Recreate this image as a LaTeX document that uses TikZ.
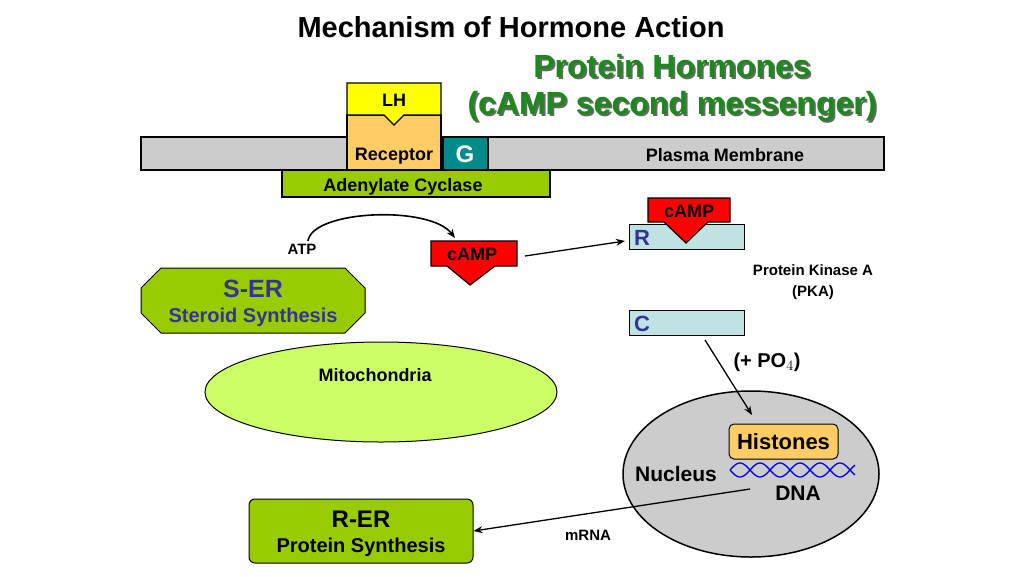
\documentclass[tikz,border=0pt]{standalone}
\usepackage{fontspec}
\setmainfont{Liberation Sans}
\usetikzlibrary{arrows.meta}
\definecolor{mem}{HTML}{CCCCCC}
\definecolor{ylw}{HTML}{FFFF00}
\definecolor{org}{HTML}{FFCC66}
\definecolor{teal2}{HTML}{008B8B}
\definecolor{grn}{HTML}{99CC00}
\definecolor{lgrn}{HTML}{CCFF66}
\definecolor{lblue}{HTML}{BFE3E3}
\definecolor{dgreen}{HTML}{1A8A1A}
\definecolor{txtblue}{HTML}{333399}
\begin{document}
\begin{tikzpicture}[x=1pt,y=-1pt,
  box/.style={draw=black,line width=1.2pt},
  lbl/.style={font=\bfseries\fontsize{18}{21}\selectfont,inner sep=0pt},
  small/.style={font=\bfseries\fontsize{15}{19}\selectfont,inner sep=0pt},
  arr/.style={line width=1.3pt,-{Stealth[length=9pt,width=7pt]}}]
\useasboundingbox (0,0) rectangle (1024,576);
\fill[white] (0,0) rectangle (1024,576);
\node[font=\bfseries\fontsize{29}{34}\selectfont] (title) at (511,27) {Mechanism of Hormone Action};
\foreach \t/\y [count=\i] in {Protein Hormones/66,(cAMP second messenger)/106}{
  \node[font=\bfseries\fontsize{32}{38}\selectfont,text=black!60] at (674,\y+2) {\t};
  \node[font=\bfseries\fontsize{32}{38}\selectfont,text=dgreen] (g\i) at (672,\y) {\t};}
% membrane
\draw[box,fill=mem] (141,137) rectangle (884,170);
\node[lbl] (pm) at (725,155) {Plasma Membrane};
\draw[box,fill=org] (347,115) rectangle (441,170);
\node[lbl] (rec) at (394,156) {Receptor};
\draw[box,fill=ylw] (347,83) -- (441,83) -- (441,115) -- (404,115) -- (394,125) -- (384,115) -- (347,115) -- cycle;
\node[lbl] (lh) at (394,100) {LH};
\draw[box,fill=teal2] (443,137) rectangle (488,170);
\node[font=\bfseries\fontsize{24}{28}\selectfont,text=white] (G) at (465,154) {G};
\draw[box,fill=grn] (282,170) rectangle (550,197);
\node[lbl] (ac) at (403,187) {Adenylate Cyclase};
% ATP and cAMP
\node[small] (atp) at (302,249) {ATP};
\draw[box,fill=red] (431,241) -- (517,241) -- (517,266) -- (495,266) -- (470,285) -- (447,266) -- (431,266) -- cycle;
\node[lbl] (camp1) at (472,254) {cAMP};
\draw[line width=1.6pt,-{Stealth[length=9pt,width=7pt]}] (308,241) .. controls (312,210) and (430,205) .. (455,238);
\coordinate (a1s) at (525,256);
\coordinate (a1e) at (625,241);
\draw[arr] (a1s) -- (a1e);
% PKA
\draw[box,line width=1pt,fill=lblue] (629,224) rectangle (744,249);
\draw[box,fill=red] (648,198) -- (730,198) -- (730,222) -- (708,222) -- (686,243) -- (664,222) -- (648,222) -- cycle;
\node[lbl] (camp2) at (689,211) {cAMP};
\node[font=\bfseries\fontsize{22}{26}\selectfont,text=txtblue] (R) at (642,238) {R};
\node[small,align=center] (pka) at (813,282) {Protein Kinase A\\[2pt](PKA)};
\draw[box,line width=1pt,fill=lblue] (629,310) rectangle (744,335);
\node[font=\bfseries\fontsize{22}{26}\selectfont,text=txtblue] (C) at (642,324) {C};
% S-ER
\draw[line width=1pt,fill=grn] (161,268) -- (345,268) -- (365,288) -- (365,313) -- (345,333) -- (161,333) -- (141,313) -- (141,288) -- cycle;
\node[font=\bfseries\fontsize{25}{30}\selectfont,text=txtblue] (ser) at (253,289) {S-ER};
\node[font=\bfseries\fontsize{20}{24}\selectfont,text=txtblue] (sers) at (253,317) {Steroid Synthesis};
% Mitochondria
\draw[line width=1pt,fill=lgrn] (381,392) ellipse (176 and 50);
\node[lbl] (mito) at (375,375) {Mitochondria};
% nucleus
\draw[line width=1.5pt,fill=mem] (751,474) ellipse (128 and 83);
\node[draw,line width=1pt,fill=org,rounded corners=5pt,minimum width=109pt,minimum height=35pt,font=\bfseries\fontsize{22}{26}\selectfont] (hist) at (783.5,441.5) {Histones};
\node[font=\bfseries\fontsize{21}{25}\selectfont] (nuc) at (676,474) {Nucleus};
\node[font=\bfseries\fontsize{21}{25}\selectfont] (dna) at (798,493) {DNA};
\draw[blue,line width=1.3pt] plot[domain=0:125,samples=80] ({730+\x},{470+7*sin(\x*9)});
\draw[blue,line width=1.3pt] plot[domain=0:125,samples=80] ({730+\x},{470-7*sin(\x*9)});
\coordinate (ps) at (705,340);
\coordinate (pe) at (752,415);
\draw[arr] (ps) -- (pe);
\node[font=\bfseries\fontsize{20}{24}\selectfont] (po4) at (767,362) {(+ PO$_4$)};
% R-ER
\node[draw,line width=1pt,fill=grn,rounded corners=6pt,minimum width=224pt,minimum height=64pt] (rer) at (361,531) {};
\node[font=\bfseries\fontsize{24}{28}\selectfont] (rert) at (361,519) {R-ER};
\node[font=\bfseries\fontsize{20}{24}\selectfont] (rers) at (361,547) {Protein Synthesis};
\coordinate (ms) at (750,489);
\draw[arr] (ms) -- (rer.east);
\node[small] (mrna) at (588,535) {mRNA};
\end{tikzpicture}
\end{document}
